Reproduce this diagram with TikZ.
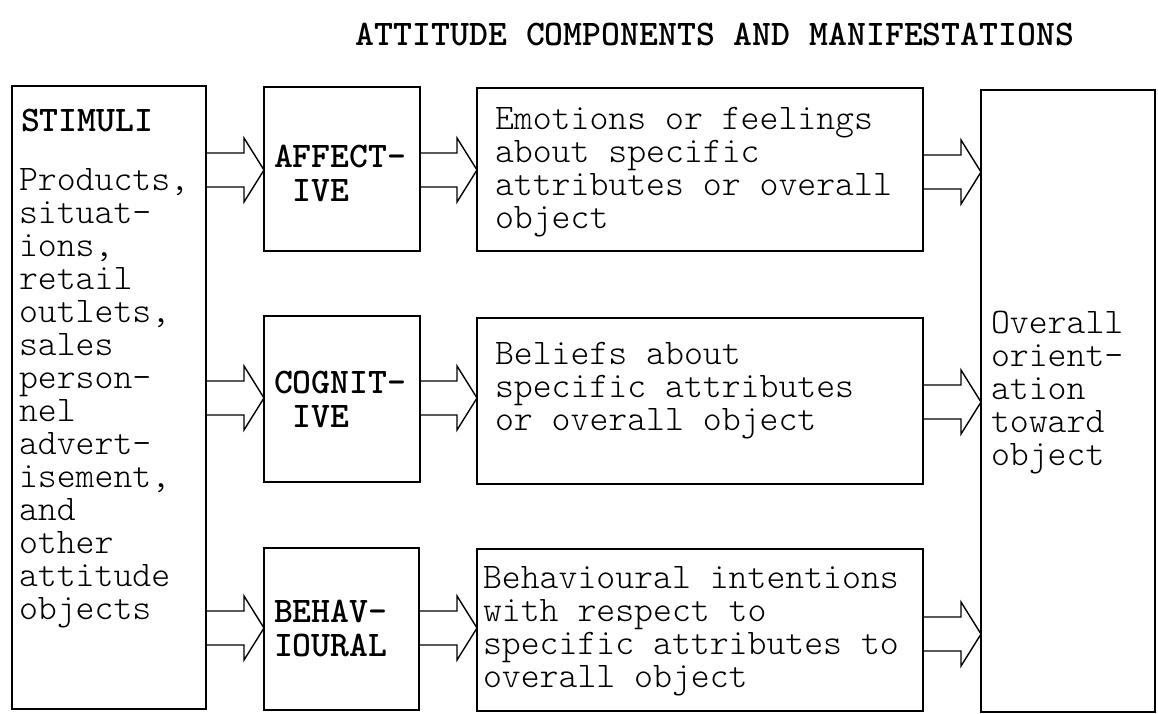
\documentclass[tikz,border=0pt]{standalone}
\usepackage{fontspec}
\setmonofont{lmmonolt10-regular.otf}[BoldFont=lmmonolt10-bold.otf]
\usetikzlibrary{calc}

% multi-line text block whose baseline is that of its first line
\newcommand\txtlines[1]{\parbox[t]{600pt}{\fontsize{36}{33}\selectfont\ttfamily #1}}
\newcommand\lbllines[1]{\parbox[t]{300pt}{\fontsize{36}{34}\selectfont\ttfamily\bfseries #1}}

% broad block arrow from the east side of #1 to the west side of #2, centred at height #3
\newcommand\fatarrow[3]{%
  \draw[fat]
    ($(#1.east|-0,#3)+(0,-17)$) --
    ($(#2.west|-0,#3)+(-20,-17)$) --
    ($(#2.west|-0,#3)+(-20,-32)$) --
    (#2.west|-0,#3) --
    ($(#2.west|-0,#3)+(-20,32)$) --
    ($(#2.west|-0,#3)+(-20,17)$) --
    ($(#1.east|-0,#3)+(0,17)$);}

\begin{document}
\begin{tikzpicture}[x=1pt,y=-1pt,
  box/.style={draw, line width=1.4pt, inner sep=0pt, outer sep=0pt},
  fat/.style={line width=1.4pt, line join=miter},
  txt/.style={anchor=base west, inner sep=0pt, outer sep=0pt}]
\useasboundingbox (0,0) rectangle (1158,713);

% title
\node[anchor=base, inner sep=0pt] (title) at (715,45)
  {\fontsize{36}{33}\selectfont\ttfamily\bfseries ATTITUDE COMPONENTS AND MANIFESTATIONS};

% boxes
\node[box, minimum width=194, minimum height=623] (stim) at (109,397.5) {};
\node[box, minimum width=156, minimum height=164] (aff)  at (342,169) {};
\node[box, minimum width=446, minimum height=163] (emo)  at (700,169.5) {};
\node[box, minimum width=156, minimum height=166] (cog)  at (342,399) {};
\node[box, minimum width=446, minimum height=166] (bel)  at (700,401) {};
\node[box, minimum width=155, minimum height=162] (beh)  at (341.5,629) {};
\node[box, minimum width=446, minimum height=162] (int)  at (700,630) {};
\node[box, minimum width=174, minimum height=622] (ovr)  at (1068,401) {};

% texts
\node[txt] (stimhead) at (21,131) {\lbllines{STIMULI}};
\node[txt] (stimtxt) at (19,190) {\txtlines{Products,\\situat-\\ions,\\retail\\outlets,\\sales\\person-\\nel\\advert-\\isement,\\and\\other\\attitude\\objects}};
\node[txt] (afftxt) at (274,167) {\lbllines{AFFECT-\\\phantom{I}IVE}};
\node[txt] (cogtxt) at (274,393) {\lbllines{COGNIT-\\\phantom{I}IVE}};
\node[txt] (behtxt) at (274,622) {\lbllines{BEHAV-\\IOURAL}};
\node[txt] (emotxt) at (495,129) {\txtlines{Emotions or feelings\\about specific\\attributes or overall\\object}};
\node[txt] (beltxt) at (495,364) {\txtlines{Beliefs about\\specific attributes\\or overall object}};
\node[txt] (inttxt) at (483,588) {\txtlines{Behavioural intentions\\with respect to\\specific attributes to\\overall object}};
\node[txt] (ovrtxt) at (991,333) {\txtlines{Overall\\orient-\\ation\\toward\\object}};

% block arrows
\fatarrow{stim}{aff}{170}
\fatarrow{aff}{emo}{170}
\fatarrow{emo}{ovr}{172}
\fatarrow{stim}{cog}{398}
\fatarrow{cog}{bel}{398}
\fatarrow{bel}{ovr}{402}
\fatarrow{stim}{beh}{628}
\fatarrow{beh}{int}{628}
\fatarrow{int}{ovr}{634}
\end{tikzpicture}
\end{document}
